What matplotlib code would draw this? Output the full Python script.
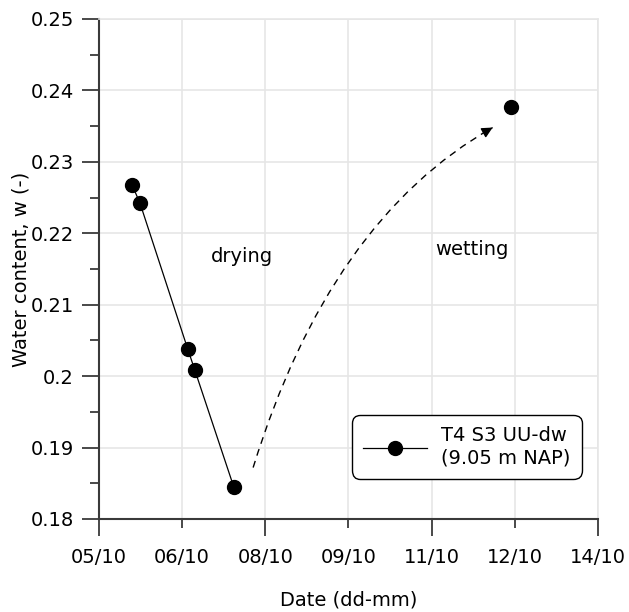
import numpy as np
import matplotlib
matplotlib.use("Agg")
import matplotlib.pyplot as plt
from matplotlib.patches import PathPatch
from matplotlib.path import Path
from matplotlib.ticker import MultipleLocator

# Sample measurements (day of October, water content)
drying_days = [5.60, 5.74, 6.60, 6.73, 7.43]
drying_w = [0.2267, 0.2242, 0.2038, 0.2008, 0.1845]
wetting_days = [12.43]
wetting_w = [0.2377]

tick_days = [5, 6.5, 8, 9.5, 11, 12.5, 14]
tick_labels = ["05/10", "06/10", "08/10", "09/10", "11/10", "12/10", "14/10"]
series_label = "T4 S3 UU-dw\n(9.05 m NAP)"

plt.rcParams["font.family"] = ["DejaVu Sans"]
FS = 14
fig = plt.figure(figsize=(6.29, 6.12), dpi=100)
ax = fig.add_axes([0.1574, 0.152, 0.7933, 0.817])

ax.plot(drying_days, drying_w, color="black", lw=0.9, marker="o",
        ms=10, mfc="black", mec="black", label=series_label, zorder=3)
ax.plot(wetting_days, wetting_w, color="black", lw=0.9, marker="o",
        ms=10, mfc="black", mec="black", linestyle="none", zorder=3)

ax.set_xlim(5, 14)
ax.set_ylim(0.18, 0.25)

ax.set_xticks(tick_days[::2], tick_labels[::2])
ax.set_xticks(tick_days[1::2], tick_labels[1::2], minor=True)
ax.yaxis.set_major_locator(MultipleLocator(0.01))
ax.yaxis.set_minor_locator(MultipleLocator(0.005))
ax.yaxis.set_major_formatter(plt.FuncFormatter(
    lambda v, p: "0.2" if abs(v - 0.2) < 1e-9 else f"{v:.2f}"))

spine_c = "#3a3a3a"
ax.tick_params(axis="both", which="major", length=12, width=1.3, color=spine_c,
               labelsize=FS, pad=6)
ax.tick_params(axis="y", which="minor", length=6.5, width=1.3, color=spine_c)
ax.tick_params(axis="x", which="minor", length=6.5, width=1.3, color=spine_c,
               labelsize=FS, pad=14.5)
ax.tick_params(axis="x", which="major", pad=9)

ax.grid(True, which="major", color="#e6e6e6", lw=1.2, zorder=0)
ax.grid(True, which="minor", axis="x", color="#e6e6e6", lw=1.2, zorder=0)
ax.set_axisbelow(True)
for s in ["top", "right"]:
    ax.spines[s].set_color("#e6e6e6")
    ax.spines[s].set_linewidth(1.2)
for s in ["left", "bottom"]:
    ax.spines[s].set_color(spine_c)
    ax.spines[s].set_linewidth(1.5)

ax.set_xlabel("Date (dd-mm)", fontsize=FS, va="center")
ax.set_ylabel("Water content, w (-)", fontsize=FS, va="center")
ax.xaxis.set_label_coords(0.5, -0.162)
ax.yaxis.set_label_coords(-0.156, 0.5)

ax.text(7.57, 0.2167, "drying", fontsize=FS, ha="center", va="center")
ax.text(11.73, 0.2177, "wetting", fontsize=FS, ha="center", va="center")

# Curved dashed arrow indicating the wetting path
p0 = (7.78, 0.1872)
pc = (9.16, 0.2219)
p2 = (12.10, 0.2348)
curve = Path([p0, pc, p2], [Path.MOVETO, Path.CURVE3, Path.CURVE3])
ax.add_patch(PathPatch(curve, fill=False, ls=(0, (5, 4)), lw=1.0,
                       color="black", zorder=2))
tx, ty = p2[0] - pc[0], p2[1] - pc[1]
ax.annotate("", xy=p2, xytext=(p2[0] - 0.04 * tx, p2[1] - 0.04 * ty),
            arrowprops=dict(arrowstyle="-|>", color="black", lw=1.0,
                            mutation_scale=16, shrinkA=0, shrinkB=0))

leg = ax.legend(loc="lower right", bbox_to_anchor=(0.968, 0.08),
                fontsize=FS, frameon=True, fancybox=True, handlelength=3.3,
                borderpad=0.6, handletextpad=0.7, borderaxespad=0)
frame = leg.get_frame()
frame.set_boxstyle("round", pad=0, rounding_size=0.45)
frame.set_edgecolor("black")
frame.set_linewidth(1.0)
frame.set_alpha(1)

fig.savefig("out.png", dpi=100)
